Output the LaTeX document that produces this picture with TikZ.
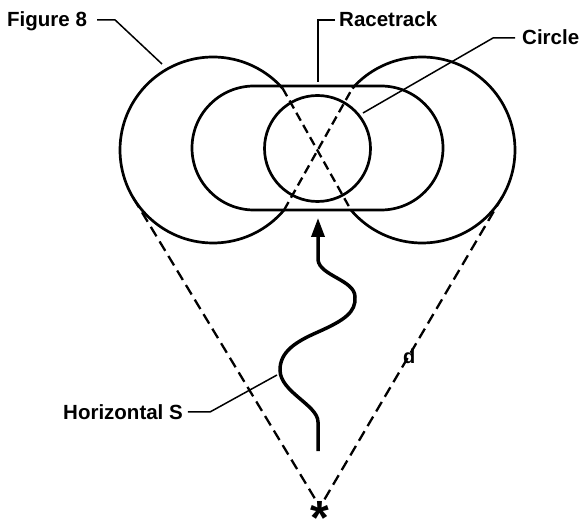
\documentclass[tikz,border=0pt]{standalone}
\usepackage{fontspec}
\setmainfont{Liberation Sans}
\usetikzlibrary{calc,arrows.meta,shapes.misc}
\begin{document}
\begin{tikzpicture}[x=1pt,y=-1pt,
  lbl/.style={font=\fontsize{20.5}{24}\selectfont\bfseries, inner sep=0, anchor=base west},
  thickline/.style={line width=2.7pt},
  leader/.style={line width=1.5pt},
  dashline/.style={line width=2.3pt, dash pattern=on 11pt off 6pt},
]
\useasboundingbox (0,0) rectangle (581,526);

% racetrack and circle
\node[draw, thickline, rounded rectangle, minimum width=251pt, minimum height=124pt, inner sep=0] (race) at (317.5,148) {};
\node[draw, thickline, circle, minimum size=106pt, inner sep=0] (circ) at (317.5,148.5) {};

% figure 8
\coordinate (Lc) at (213,150);
\coordinate (Rc) at (422,150);
\coordinate (L1) at ($(Lc)+(40.1:93)$);
\coordinate (L2) at ($(Lc)+(318.5:93)$);
\coordinate (R1) at ($(Rc)+(221.5:93)$);
\coordinate (R2) at ($(Rc)+(139.9:93)$);
\draw[thickline] (L1) arc[start angle=40.1, end angle=318.5, radius=93];
\draw[thickline] (R1) arc[start angle=221.5, end angle=499.9, radius=93];
\draw[dashline, dash pattern=on 9pt off 5pt] (L2) -- (R2);
\draw[dashline, dash pattern=on 9pt off 5pt] (L1) -- (R1);

% viewer lines
\coordinate (apex) at (320,507);
\coordinate (LT) at ($(Lc)+(149.1:93)$);
\coordinate (RT) at ($(Rc)+(30.2:93)$);
\draw[dashline, shorten >=5pt] (LT) -- (apex);
\draw[dashline, shorten >=5pt] (RT) -- (apex);
\node[font=\fontsize{48}{52}\selectfont\bfseries, inner sep=0, anchor=north] (star) at (320,501) {*};

% horizontal S
\coordinate (sbot) at (318,451);
\coordinate (stip) at (318,218);
\draw[line width=3.5pt, -{Triangle[length=19pt,width=13pt]}] (sbot) -- (318,422)
  .. controls (318,405) and (280,392) .. (280,370)
  .. controls (280,352) and (295,342) .. (318,332)
  .. controls (345,320) and (356,312) .. (355,297)
  .. controls (355,280) and (320,276) .. (318,260) -- (stip);

% labels
\node[lbl] (fig8) at (7,27) {Figure 8};
\node[lbl] (racelbl) at (339,27) {Racetrack};
\node[lbl] (circlbl) at (522,45) {Circle};
\node[lbl] (hs) at (63,420) {Horizontal S};
\node[font=\fontsize{20}{24}\selectfont\bfseries, inner sep=0, anchor=base west] (d) at (403,364) {d};

% leaders
\coordinate (f8end) at (162,64);
\coordinate (rend) at (318,82);
\coordinate (cend) at (363,113);
\coordinate (hsend) at (277,375);
\draw[leader] ($(fig8.base east)+(10,-7)$) -- ++(18,0) -- (f8end);
\draw[leader] ($(racelbl.base west)+(-4,-7)$) -| (rend);
\draw[leader] ($(circlbl.base west)+(-7,-7)$) -- ++(-22,0) -- (cend);
\draw[leader] ($(hs.base east)+(5,-8)$) -- ++(22,0) -- (hsend);
\end{tikzpicture}
\end{document}
